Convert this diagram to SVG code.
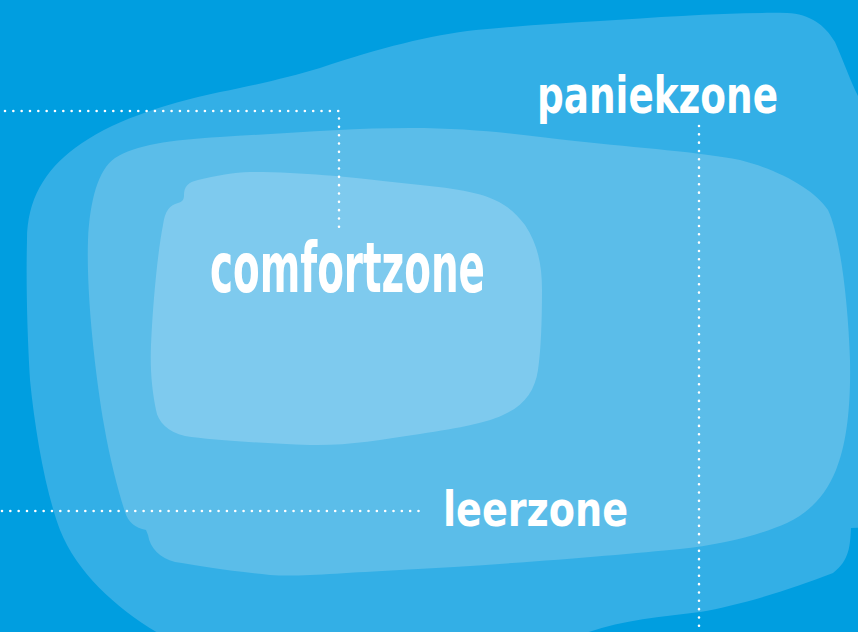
<svg xmlns="http://www.w3.org/2000/svg" width="858" height="632" viewBox="0 0 858 632">
<style>
.lbl{font-family:"DejaVu Sans Condensed","DejaVu Sans",sans-serif;font-weight:bold;fill:#ffffff}
.dot{fill:none;stroke:#ffffff;stroke-width:2.6;stroke-linecap:round;stroke-dasharray:0 8.33}
</style>
<rect width="858" height="632" fill="#009ee0"/>
<g id="paniekzone">
<path fill="#33afe6" d="M 27 240 C 27 200, 45 170, 75 148 C 110 122, 160 105, 220 92 C 260 84, 290 77, 320 68 C 380 48, 430 35, 476 30 C 520 26, 560 23, 600 21 C 660 17, 730 12, 787 13 C 810 14, 825 25, 835 42 C 845 65, 852 85, 860 100 L 870 100 L 870 527 L 851 528 C 850 545, 850 560, 833 573 C 790 590, 740 605, 700 612 C 650 618, 600 622, 560 645 L 180 645 C 130 620, 80 580, 60 530 C 45 490, 35 430, 30 380 C 27 330, 26 280, 27 240 Z"/>
<text class="lbl" x="537" y="113" font-size="52" textLength="241" lengthAdjust="spacingAndGlyphs">paniekzone</text>
</g>
<g id="leerzone">
<path fill="#5bbde9" d="M 88 240 C 90 200, 98 170, 115 158 C 135 145, 170 140, 220 137 C 290 133, 350 128, 410 128 C 480 128, 530 136, 575 141 C 640 148, 700 152, 740 160 C 780 170, 815 190, 828 210 C 840 235, 848 300, 850 360 C 851 410, 846 445, 836 470 C 826 495, 810 512, 787 523 C 760 535, 720 545, 680 549 C 620 555, 500 565, 400 570 C 340 573, 300 577, 270 575 C 230 571, 200 566, 175 562 C 160 558, 150 548, 148 535 L 146 530 C 135 528, 128 522, 125 512 C 118 490, 110 460, 104 425 C 97 385, 86 300, 88 240 Z"/>
<text class="lbl" x="443" y="526" font-size="48" textLength="185" lengthAdjust="spacingAndGlyphs">leerzone</text>
</g>
<g id="comfortzone">
<path fill="#7ecaee" d="M 250 172 C 300 172, 350 177, 383 181 C 420 185, 460 188, 485 196 C 505 203, 515 212, 525 225 C 538 245, 542 265, 542 290 C 542 320, 541 350, 538 370 C 535 390, 525 405, 505 414 C 490 422, 460 428, 420 434 C 380 440, 345 446, 310 445 C 260 443, 210 440, 185 436 C 168 432, 158 422, 156 410 C 152 390, 150 370, 151 345 C 153 300, 158 250, 163 225 C 165 210, 170 205, 178 203 C 182 202, 184 200, 184 195 C 184 187, 188 182, 198 180 C 215 176, 235 172, 250 172 Z"/>
<text class="lbl" x="210" y="292" font-size="70" textLength="275" lengthAdjust="spacingAndGlyphs">comfortzone</text>
</g>
<g id="connectors">
<path class="dot" d="M 5 111 H 339 V 232"/>
<path class="dot" d="M 2 511 H 426"/>
<path class="dot" d="M 699 126 V 632"/>
</g>
</svg>
